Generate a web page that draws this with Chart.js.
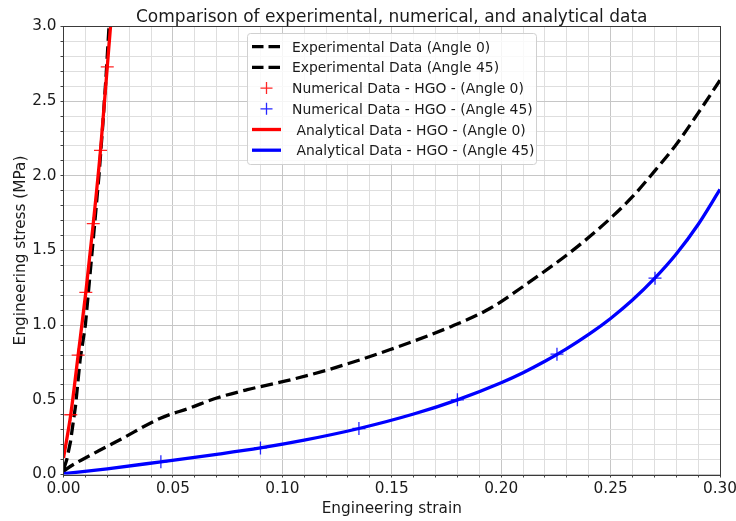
<!DOCTYPE html>
<html>
<head>
<meta charset="utf-8">
<script src="https://cdn.jsdelivr.net/npm/chart.js@4.4.1/dist/chart.umd.min.js"></script>
<style>
  html, body { margin: 0; padding: 0; background: #ffffff; }
  #wrap { width: 736px; height: 521px; }
</style>
</head>
<body>
<div id="wrap"><canvas id="c" width="736" height="521"></canvas></div>
<script>
// ---------- data ----------
const titleText = 'Comparison of experimental, numerical, and analytical data';
const xLabel = 'Engineering strain';
const yLabel = 'Engineering stress (MPa)';

const exp0Strain = [0, 0.0015, 0.0032, 0.0055, 0.0076, 0.0100, 0.0125, 0.0145, 0.0162, 0.0180, 0.0195, 0.0208, 0.0218];
const exp0Stress = [0.03, 0.10, 0.22, 0.46, 0.77, 1.00, 1.40, 1.72, 2.00, 2.35, 2.68, 3.00, 3.20];

const exp45Strain = [0, 0.001, 0.013, 0.026, 0.044, 0.058, 0.070, 0.084, 0.104, 0.122, 0.149, 0.177, 0.195, 0.213, 0.230, 0.241, 0.251, 0.260, 0.270, 0.280, 0.290, 0.300];
const exp45Stress = [0.02, 0.033, 0.134, 0.234, 0.375, 0.447, 0.512, 0.568, 0.635, 0.706, 0.835, 0.99, 1.113, 1.29, 1.47, 1.60, 1.73, 1.86, 2.03, 2.21, 2.42, 2.64];

const num0Strain = [0.0033, 0.0067, 0.0102, 0.0136, 0.0169, 0.0200];
const num0Stress = [0.40, 0.80, 1.22, 1.68, 2.17, 2.73];

const num45Strain = [0.0445, 0.090, 0.135, 0.180, 0.2255, 0.2703];
const num45Stress = [0.085, 0.178, 0.308, 0.50, 0.806, 1.315];

const ana0Strain = [0, 0.0033, 0.0067, 0.0102, 0.0136, 0.0169, 0.0200, 0.0216, 0.0230];
const ana0Stress = [0.11, 0.40, 0.80, 1.22, 1.68, 2.17, 2.73, 3.02, 3.28];

const ana45Strain = [0, 0.02, 0.0445, 0.07, 0.09, 0.11, 0.135, 0.16, 0.18, 0.20, 0.21, 0.22, 0.23, 0.24, 0.25, 0.26, 0.27, 0.28, 0.29, 0.30];
const ana45Stress = [0.005, 0.038, 0.085, 0.135, 0.178, 0.230, 0.308, 0.405, 0.50, 0.615, 0.682, 0.758, 0.843, 0.938, 1.045, 1.168, 1.311, 1.476, 1.674, 1.909];

const seriesLabels = [
  'Experimental Data (Angle 0)',
  'Experimental Data (Angle 45)',
  'Numerical Data - HGO - (Angle 0)',
  'Numerical Data - HGO - (Angle 45)',
  ' Analytical Data - HGO - (Angle 0)',
  ' Analytical Data - HGO - (Angle 45)'
];

const xMin = 0, xMax = 0.30, xStep = 0.01;
const yMin = 0, yMax = 3.0, yStep = 0.1;

// ---------- helpers ----------
const pts = (xs, ys) => xs.map((x, i) => ({ x: x, y: ys[i] }));
const isMajor = (v, per) => Math.abs(v * per - Math.round(v * per)) < 1e-6;

const FONT = 'DejaVu Sans';
Chart.defaults.font.family = FONT;
Chart.defaults.color = '#1a1a1a';

const DASH = [12.5, 5.5];
const LW = 3.3;

const datasets = [
  { label: seriesLabels[0], data: pts(exp0Strain, exp0Stress), borderColor: '#000000', borderWidth: LW, borderDash: DASH, pointRadius: 0, tension: 0, order: 3, kind: 'dash' },
  { label: seriesLabels[1], data: pts(exp45Strain, exp45Stress), borderColor: '#000000', borderWidth: LW, borderDash: DASH, pointRadius: 0, cubicInterpolationMode: 'monotone', order: 3, kind: 'dash' },
  { label: seriesLabels[2], data: pts(num0Strain, num0Stress), showLine: false, pointStyle: 'cross', pointRadius: 6.5, pointBorderWidth: 1.3, pointBorderColor: 'rgba(255,0,0,0.85)', borderColor: 'rgba(255,0,0,0.85)', pointBackgroundColor: 'transparent', order: 2, kind: 'cross' },
  { label: seriesLabels[3], data: pts(num45Strain, num45Stress), showLine: false, pointStyle: 'cross', pointRadius: 6.5, pointBorderWidth: 1.3, pointBorderColor: 'rgba(0,0,255,0.85)', borderColor: 'rgba(0,0,255,0.85)', pointBackgroundColor: 'transparent', order: 2, kind: 'cross' },
  { label: seriesLabels[4], data: pts(ana0Strain, ana0Stress), borderColor: '#ff0000', borderWidth: LW, pointRadius: 0, cubicInterpolationMode: 'monotone', order: 1, kind: 'line' },
  { label: seriesLabels[5], data: pts(ana45Strain, ana45Stress), borderColor: '#0000ff', borderWidth: LW, pointRadius: 0, cubicInterpolationMode: 'monotone', order: 1, kind: 'line' }
];
datasets.forEach(d => { d.clip = 0; d.fill = false; });

// ---------- custom drawing: title, frame, legend ----------
const decorPlugin = {
  id: 'decor',
  afterDatasetsDraw(chart) {
    const { ctx, chartArea: a } = chart;
    ctx.save();
    ctx.strokeStyle = '#3a3a3a';
    ctx.lineWidth = 1;
    const l = Math.round(a.left) - 0.5, t = Math.round(a.top) - 0.5;
    const r = Math.round(a.right) + 0.5, b = Math.round(a.bottom) + 0.5;
    ctx.strokeRect(l, t, r - l, b - t);
    ctx.restore();
  },
  afterDraw(chart) {
    const { ctx, chartArea: a } = chart;
    ctx.save();
    // title
    ctx.fillStyle = '#1a1a1a';
    ctx.font = '17px "' + FONT + '"';
    ctx.textAlign = 'center';
    ctx.textBaseline = 'alphabetic';
    ctx.fillText(titleText, (a.left + a.right) / 2, 21.5);

    // legend box
    const bx = 247.5, by = 33.5, bw = 289, bh = 131, r = 3;
    ctx.beginPath();
    ctx.moveTo(bx + r, by);
    ctx.lineTo(bx + bw - r, by);
    ctx.arcTo(bx + bw, by, bx + bw, by + r, r);
    ctx.lineTo(bx + bw, by + bh - r);
    ctx.arcTo(bx + bw, by + bh, bx + bw - r, by + bh, r);
    ctx.lineTo(bx + r, by + bh);
    ctx.arcTo(bx, by + bh, bx, by + bh - r, r);
    ctx.lineTo(bx, by + r);
    ctx.arcTo(bx, by, bx + r, by, r);
    ctx.closePath();
    ctx.fillStyle = 'rgba(255,255,255,0.82)';
    ctx.fill();
    ctx.strokeStyle = '#d0d0d0';
    ctx.lineWidth = 1;
    ctx.stroke();

    const rowY0 = 46.7, rowH = 20.7;
    const hx0 = 252, hx1 = 281, hcx = 266.5;
    chart.data.datasets.forEach((d, i) => {
      const y = rowY0 + i * rowH;
      ctx.save();
      if (d.kind === 'cross') {
        ctx.strokeStyle = d.pointBorderColor;
        ctx.lineWidth = 1.3;
        ctx.beginPath();
        ctx.moveTo(hcx - 6, y); ctx.lineTo(hcx + 6, y);
        ctx.moveTo(hcx, y - 6); ctx.lineTo(hcx, y + 6);
        ctx.stroke();
      } else {
        ctx.strokeStyle = d.borderColor;
        ctx.lineWidth = LW;
        ctx.setLineDash(d.kind === 'dash' ? [11.5, 5] : []);
        ctx.beginPath();
        ctx.moveTo(hx0, y); ctx.lineTo(hx1, y);
        ctx.stroke();
      }
      ctx.restore();
      ctx.fillStyle = '#1a1a1a';
      ctx.font = '13.9px "' + FONT + '"';
      ctx.textAlign = 'left';
      ctx.textBaseline = 'alphabetic';
      ctx.fillText(d.label, 292, y + 5);
    });
    ctx.restore();
  }
};

new Chart(document.getElementById('c'), {
  type: 'line',
  data: { datasets: datasets },
  plugins: [decorPlugin],
  options: {
    responsive: false,
    animation: false,
    devicePixelRatio: 1,
    events: [],
    layout: { padding: { top: 26.5, right: 16, left: 0, bottom: 0 } },
    plugins: {
      legend: { display: false },
      title: { display: false },
      tooltip: { enabled: false }
    },
    scales: {
      x: {
        type: 'linear',
        min: xMin, max: xMax,
        afterFit(scale) {
          scale.height = 46.5;
          scale.paddingLeft = 0; scale.paddingRight = 0;
          scale.paddingTop = 0; scale.paddingBottom = 0;
        },
        border: { display: false },
        grid: {
          color: c => (c.tick && isMajor(c.tick.value, 20)) ? '#c6c6c6' : '#dedede',
          lineWidth: 1,
          drawTicks: true,
          tickLength: 3,
          tickColor: '#444444',
          tickWidth: 1
        },
        ticks: {
          stepSize: xStep,
          autoSkip: false,
          maxRotation: 0,
          minRotation: 0,
          padding: 2,
          font: { size: 15.3 },
          color: '#1a1a1a',
          callback: (v) => isMajor(v, 20) ? v.toFixed(2) : ''
        },
        title: {
          display: true,
          text: xLabel,
          font: { size: 15.3 },
          color: '#1a1a1a',
          padding: { top: 0, bottom: 3 }
        }
      },
      y: {
        type: 'linear',
        min: yMin, max: yMax,
        afterFit(scale) {
          scale.width = 63.5;
          scale.paddingTop = 0; scale.paddingBottom = 0;
          scale.paddingLeft = 0; scale.paddingRight = 0;
        },
        border: { display: false },
        grid: {
          color: c => (c.tick && isMajor(c.tick.value, 2)) ? '#c6c6c6' : '#dedede',
          lineWidth: 1,
          drawTicks: true,
          tickLength: 3,
          tickColor: '#444444',
          tickWidth: 1
        },
        ticks: {
          stepSize: yStep,
          autoSkip: false,
          padding: 4,
          font: { size: 15.3 },
          color: '#1a1a1a',
          callback: (v) => isMajor(v, 2) ? v.toFixed(1) : ''
        },
        title: {
          display: true,
          text: yLabel,
          font: { size: 15.3 },
          color: '#1a1a1a',
          padding: { top: 11.5, bottom: 0 }
        }
      }
    }
  }
});
</script>
</body>
</html>
